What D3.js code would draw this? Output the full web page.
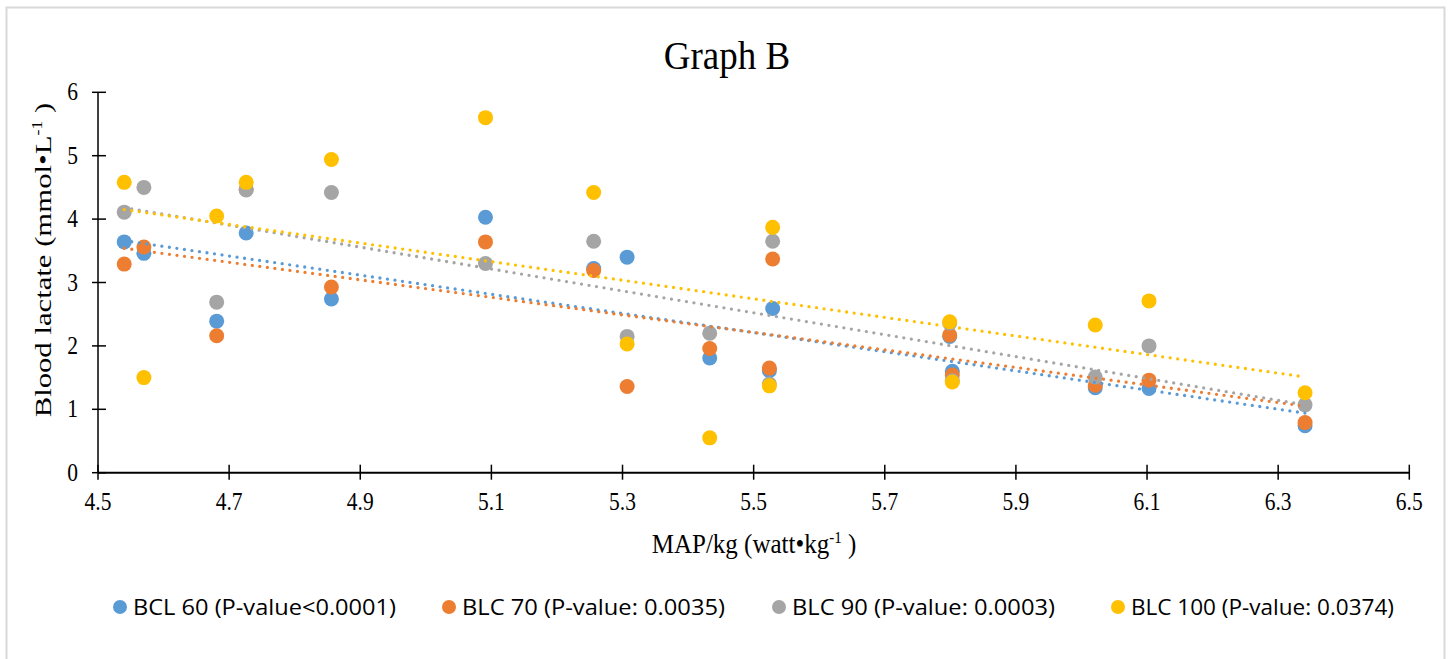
<!DOCTYPE html>
<html lang="en">
<head>
  <meta charset="utf-8">
  <title>Graph B</title>
  <script src="https://d3js.org/d3.v7.min.js"></script>
  <style>
    body { margin: 0; background: #fff; }
    .serif { font-family: "Liberation Serif", "Times New Roman", serif; fill: #000; }
    .legend text { font-family: "Open Sans", sans-serif; font-size: 21.5px; fill: #000; }
  </style>
</head>
<body>
  <div id="chart"></div>

  <script>
    // MAP/kg of each participant
    var mapKg = [4.540, 4.570, 4.681, 4.726, 4.856, 5.091, 5.256, 5.307,
                 5.433, 5.529, 5.524, 5.799, 5.803, 6.021, 6.103, 6.341];

    // blood lactate per stage (mmol/L)
    var blc60  = [3.64, 3.46, 2.39, 3.78, 2.74, 4.03, 3.22, 3.40, 1.81, 2.59, 1.61, 2.15, 1.60, 1.34, 1.33, 0.74];
    var blc70  = [3.29, 3.56, 2.16, 4.47, 2.93, 3.64, 3.19, 1.36, 1.96, 3.37, 1.65, 2.17, 1.54, 1.38, 1.46, 0.79];
    var blc90  = [4.11, 4.50, 2.69, 4.46, 4.42, 3.30, 3.65, 2.15, 2.20, 3.65, 1.40, 2.36, 1.45, 1.51, 2.00, 1.07];
    var blc100 = [4.58, 1.50, 4.05, 4.58, 4.94, 5.60, 4.42, 2.03, 0.55, 3.87, 1.37, 2.38, 1.43, 2.33, 2.71, 1.26];

    var seriesNames = ["BCL 60 (P-value<0.0001)", "BLC 70 (P-value: 0.0035)",
                       "BLC 90 (P-value: 0.0003)", "BLC 100 (P-value: 0.0374)"];
    var seriesColors = ["#5B9BD5", "#ED7D31", "#A5A5A5", "#FFC000"];

    // linear trend lines, value at first and last MAP/kg
    var trendX = [4.540, 6.341];
    var trendFrom = [3.66, 3.54, 4.18, 4.15];
    var trendTo   = [0.94, 1.05, 1.07, 1.51];

    var xTicks = [4.5, 4.7, 4.9, 5.1, 5.3, 5.5, 5.7, 5.9, 6.1, 6.3, 6.5];
    var yTicks = [0, 1, 2, 3, 4, 5, 6];

    var width = 1455, height = 659;
    var series = [blc60, blc70, blc90, blc100];

    var svg = d3.select("#chart").append("svg")
      .attr("width", width)
      .attr("height", height);

    // outer frame
    svg.append("rect")
      .attr("x", 6.5).attr("y", 7.5)
      .attr("width", 1438).attr("height", 670)
      .attr("fill", "none")
      .attr("stroke", "#d9d9d9")
      .attr("stroke-width", 2);

    var x = d3.scaleLinear().domain([4.5, 6.5]).range([98, 1409.3]);
    var y = d3.scaleLinear().domain([0, 6]).range([472.7, 92.3]);

    svg.append("text")
      .attr("class", "serif")
      .attr("transform", "translate(727,69) scale(1,1.1)")
      .attr("text-anchor", "middle")
      .style("font-size", "37px")
      .text("Graph B");

    // axes
    var yAxis = svg.append("g").attr("transform", "translate(98,0)");
    yAxis.append("line")
      .attr("y1", y(6)).attr("y2", y(0))
      .attr("stroke", "#000").attr("stroke-width", 1.5);
    yAxis.selectAll(".tk").data(yTicks).enter().append("line")
      .attr("x1", -6).attr("x2", 8)
      .attr("y1", d => y(d)).attr("y2", d => y(d))
      .attr("stroke", "#000").attr("stroke-width", 1.5);
    yAxis.selectAll("text").data(yTicks).enter().append("text")
      .attr("class", "serif")
      .attr("transform", d => "translate(-20," + (y(d) + 8) + ") scale(1,1.15)")
      .attr("text-anchor", "end")
      .style("font-size", "21.5px")
      .text(d => d);

    var xAxis = svg.append("g").attr("transform", "translate(0," + y(0) + ")");
    xAxis.append("line")
      .attr("x1", x(4.5)).attr("x2", x(6.5))
      .attr("stroke", "#000").attr("stroke-width", 2);
    xAxis.selectAll(".tk").data(xTicks).enter().append("line")
      .attr("x1", d => x(d)).attr("x2", d => x(d))
      .attr("y1", -8).attr("y2", 7)
      .attr("stroke", "#000").attr("stroke-width", 1.5);
    xAxis.selectAll("text").data(xTicks).enter().append("text")
      .attr("class", "serif")
      .attr("transform", d => "translate(" + x(d) + ",37) scale(1,1.15)")
      .attr("text-anchor", "middle")
      .style("font-size", "21.5px")
      .text(d => d3.format(".1f")(d));

    // axis titles
    var xt = svg.append("text")
      .attr("class", "serif")
      .attr("transform", "translate(754,553) scale(1,1.1)")
      .attr("text-anchor", "middle")
      .style("font-size", "25px");
    xt.append("tspan").text("MAP/kg (watt\u2022kg");
    xt.append("tspan").attr("dy", -9).style("font-size", "15px").text("-1");
    xt.append("tspan").attr("dy", 9).text(" )");

    var yt = svg.append("text")
      .attr("class", "serif")
      .attr("transform", "translate(51,260) rotate(-90) scale(1.28,1)")
      .attr("text-anchor", "middle")
      .style("font-size", "24px");
    yt.append("tspan").text("Blood lactate (mmol\u2022L");
    yt.append("tspan").attr("dy", -9).style("font-size", "14px").text("-1");
    yt.append("tspan").attr("dy", 9).text(" )");

    // markers
    series.forEach(function(vals, i) {
      svg.append("g").selectAll("circle")
        .data(vals)
        .enter().append("circle")
        .attr("cx", (d, j) => x(mapKg[j]))
        .attr("cy", d => y(d))
        .attr("r", 7.5)
        .attr("fill", seriesColors[i]);
    });

    // dotted trend lines on top
    series.forEach(function(vals, i) {
      svg.append("line")
        .attr("x1", x(trendX[0])).attr("y1", y(trendFrom[i]))
        .attr("x2", x(trendX[1])).attr("y2", y(trendTo[i]))
        .attr("stroke", seriesColors[i])
        .attr("stroke-width", 3.3)
        .attr("stroke-linecap", "round")
        .attr("stroke-dasharray", "0 7.6");
    });

    // legend
    var legendX = [120, 449, 779, 1118];
    var legend = svg.append("g").attr("class", "legend");
    var item = legend.selectAll("g").data(seriesNames).enter().append("g")
      .attr("transform", (d, i) => "translate(" + legendX[i] + ",607)");
    item.append("circle")
      .attr("r", 7)
      .attr("fill", (d, i) => seriesColors[i]);
    item.append("text")
      .attr("x", 13).attr("y", 8)
      .attr("textLength", 263)
      .attr("lengthAdjust", "spacingAndGlyphs")
      .text(d => d);
  </script>
</body>
</html>
